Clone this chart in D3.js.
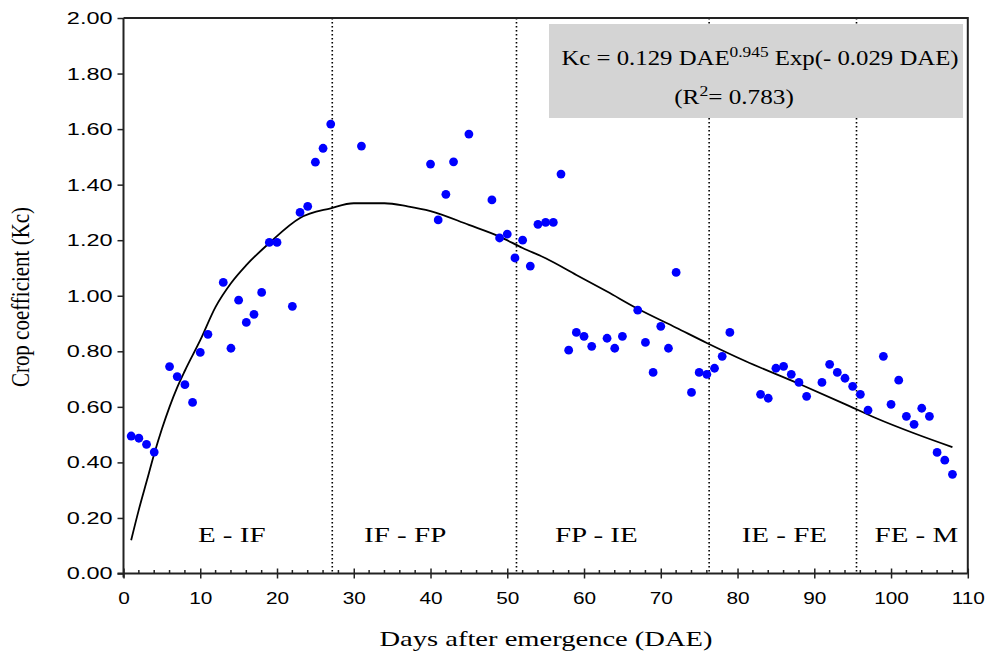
<!DOCTYPE html>
<html><head><meta charset="utf-8">
<script src="https://cdn.jsdelivr.net/npm/d3@7"></script>
<style>body{margin:0;background:#fff}</style>
</head><body>
<svg id="c" width="987" height="652"></svg>
<script>
// ---- data ----
const dae = [1,2,3,4,6,7,8,9,10,11,13,14,15,16,17,18,19,20,22,23,24,25,26,27,31,40,41,42,43,45,48,49,50,51,52,53,54,55,56,57,58,59,60,61,63,64,65,67,68,69,70,71,72,74,75,76,77,78,79,83,84,85,86,87,88,89,91,92,93,94,95,96,97,99,100,101,102,103,104,105,106,107,108];
const kc  = [0.495,0.487,0.465,0.437,0.745,0.709,0.680,0.616,0.796,0.861,1.048,0.811,0.984,0.904,0.933,1.012,1.192,1.192,0.962,1.300,1.322,1.481,1.531,1.618,1.539,1.474,1.273,1.365,1.482,1.582,1.345,1.208,1.222,1.136,1.200,1.107,1.257,1.264,1.264,1.438,0.804,0.868,0.854,0.818,0.847,0.811,0.854,0.948,0.832,0.724,0.890,0.811,1.084,0.652,0.724,0.717,0.739,0.782,0.868,0.645,0.631,0.739,0.746,0.717,0.688,0.638,0.688,0.753,0.724,0.703,0.674,0.645,0.588,0.782,0.609,0.696,0.566,0.537,0.595,0.566,0.436,0.408,0.357];
// fitted curve
const fitDae = [1,2,3,4,5,6,7,8,10,12,14,16,19,23,27,30,34,37,40,45,49,52,55,59,63,67,72,76,81,88,94,98,103,108];
const fitKc  = [0.12,0.23,0.33,0.43,0.52,0.60,0.67,0.73,0.84,0.96,1.045,1.11,1.19,1.28,1.315,1.333,1.333,1.322,1.305,1.255,1.213,1.172,1.135,1.075,1.015,0.953,0.885,0.83,0.765,0.683,0.61,0.56,0.505,0.455];
const stageBounds = [27.2,51.2,76.3,95.5];
const stageLabels = ["E - IF","IF - FP","FP - IE","IE - FE","FE - M"];
const stageLabelPos = [14.1,36.7,61.6,86.1,103.3];
const xTicks = [0,10,20,30,40,50,60,70,80,90,100,110];
const yTicks = [0,0.2,0.4,0.6,0.8,1.0,1.2,1.4,1.6,1.8,2.0];
const xTitle = "Days after emergence (DAE)";
const yTitle = "Crop coefficient (Kc)";

const svg = d3.select("#c");
const X0=123.5, X1=967.8, Y0=573.5, Y1=18;
const x = d3.scaleLinear().domain([0,110]).range([X0,X1]);
const y = d3.scaleLinear().domain([0,2]).range([Y0,Y1]);
const SANS = "'Liberation Sans', Arial, sans-serif";
const SERIF = "'Liberation Serif', 'Times New Roman', serif";

function stretch(sel, sx){
  sel.each(function(){
    const w = this.getComputedTextLength();
    d3.select(this).attr("textLength", w*sx).attr("lengthAdjust","spacingAndGlyphs");
  });
}

// stage divider lines
svg.append("g").selectAll("line").data(stageBounds).join("line")
  .attr("x1",d=>x(d)).attr("x2",d=>x(d)).attr("y1",Y1).attr("y2",Y0)
  .attr("stroke","#000").attr("stroke-width",1.6).attr("stroke-dasharray","1.6,2.4");

// equation box
svg.append("rect").attr("x",549).attr("y",24).attr("width",414).attr("height",94).attr("fill","#d4d4d4");
const eqG = svg.append("g").attr("transform","translate(760,65) scale(1.24,1)");
const eq = eqG.append("text").attr("text-anchor","middle").attr("font-family",SERIF).attr("font-size",20).attr("fill","#000");
eq.append("tspan").text("Kc = 0.129 DAE");
eq.append("tspan").attr("dy",-8).attr("font-size",14).text("0.945");
eq.append("tspan").attr("dy",8).text(" Exp(- 0.029 DAE)");
const r2G = svg.append("g").attr("transform","translate(734,104) scale(1.26,1)");
const r2 = r2G.append("text").attr("text-anchor","middle").attr("font-family",SERIF).attr("font-size",20).attr("fill","#000");
r2.append("tspan").text("(R");
r2.append("tspan").attr("dy",-8).attr("font-size",14).text("2");
r2.append("tspan").attr("dy",8).text("= 0.783)");

// fitted curve
svg.append("path").datum(fitDae.map((d,i)=>[d,fitKc[i]]))
  .attr("fill","none").attr("stroke","#000").attr("stroke-width",1.8)
  .attr("d", d3.line().x(d=>x(d[0])).y(d=>y(d[1])).curve(d3.curveMonotoneX));

// points
svg.append("g").selectAll("circle").data(dae.map((d,i)=>[d,kc[i]])).join("circle")
  .attr("cx",d=>x(d[0])).attr("cy",d=>y(d[1])).attr("r",4.4).attr("fill","#0000ff");

// stage labels
svg.append("g").selectAll("g").data(stageLabels).join("g")
  .attr("transform",(d,i)=>`translate(${x(stageLabelPos[i])},542) scale(1.45,1)`)
  .append("text").attr("text-anchor","middle").attr("font-family",SERIF).attr("font-size",20).text(d=>d);

// frame
svg.append("path").attr("d",`M${X0},${Y1}H${X1}V${Y0}`).attr("fill","none").attr("stroke","#222").attr("stroke-width",2);

// y axis
const ya = svg.append("g").attr("transform",`translate(${X0},0)`)
  .call(d3.axisLeft(y).tickValues(yTicks).tickFormat(d3.format(".2f")).tickSize(6).tickPadding(5));
ya.select(".domain").attr("stroke","#222").attr("stroke-width",2).attr("d",`M0,${Y1}V${Y0+4}`);
ya.selectAll(".tick line").attr("stroke","#222").attr("stroke-width",1.5);
ya.selectAll("text").attr("font-family",SANS).attr("font-size",17).attr("fill","#000");
stretch(ya.selectAll("text"),1.38);

// x axis
const xa = svg.append("g").attr("transform",`translate(0,${Y0})`)
  .call(d3.axisBottom(x).tickValues(xTicks).tickFormat(d3.format("d")).tickSize(5).tickPadding(14));
xa.select(".domain").attr("stroke","#222").attr("stroke-width",2).attr("d",`M${X0-6},0H${X1}`);
xa.selectAll(".tick line").attr("y1",-5).attr("stroke","#222").attr("stroke-width",1.5);
xa.selectAll("text").attr("font-family",SANS).attr("font-size",16).attr("fill","#000");
stretch(xa.selectAll("text"),1.3);
// minor ticks every 2 days
const minor = d3.range(0,111,2).filter(v=>v%10!==0);
svg.append("g").selectAll("line").data(minor).join("line")
  .attr("x1",d=>x(d)).attr("x2",d=>x(d)).attr("y1",Y0-3.5).attr("y2",Y0)
  .attr("stroke","#222").attr("stroke-width",1.5);

// axis titles
svg.append("g").attr("transform","translate(546,646) scale(1.36,1)")
  .append("text").attr("text-anchor","middle").attr("font-family",SERIF).attr("font-size",21).text(xTitle);
svg.append("text").attr("transform","translate(29,297) rotate(-90) scale(1,1.15)").attr("text-anchor","middle")
  .attr("font-family",SERIF).attr("font-size",21).text(yTitle);
</script>
</body></html>
